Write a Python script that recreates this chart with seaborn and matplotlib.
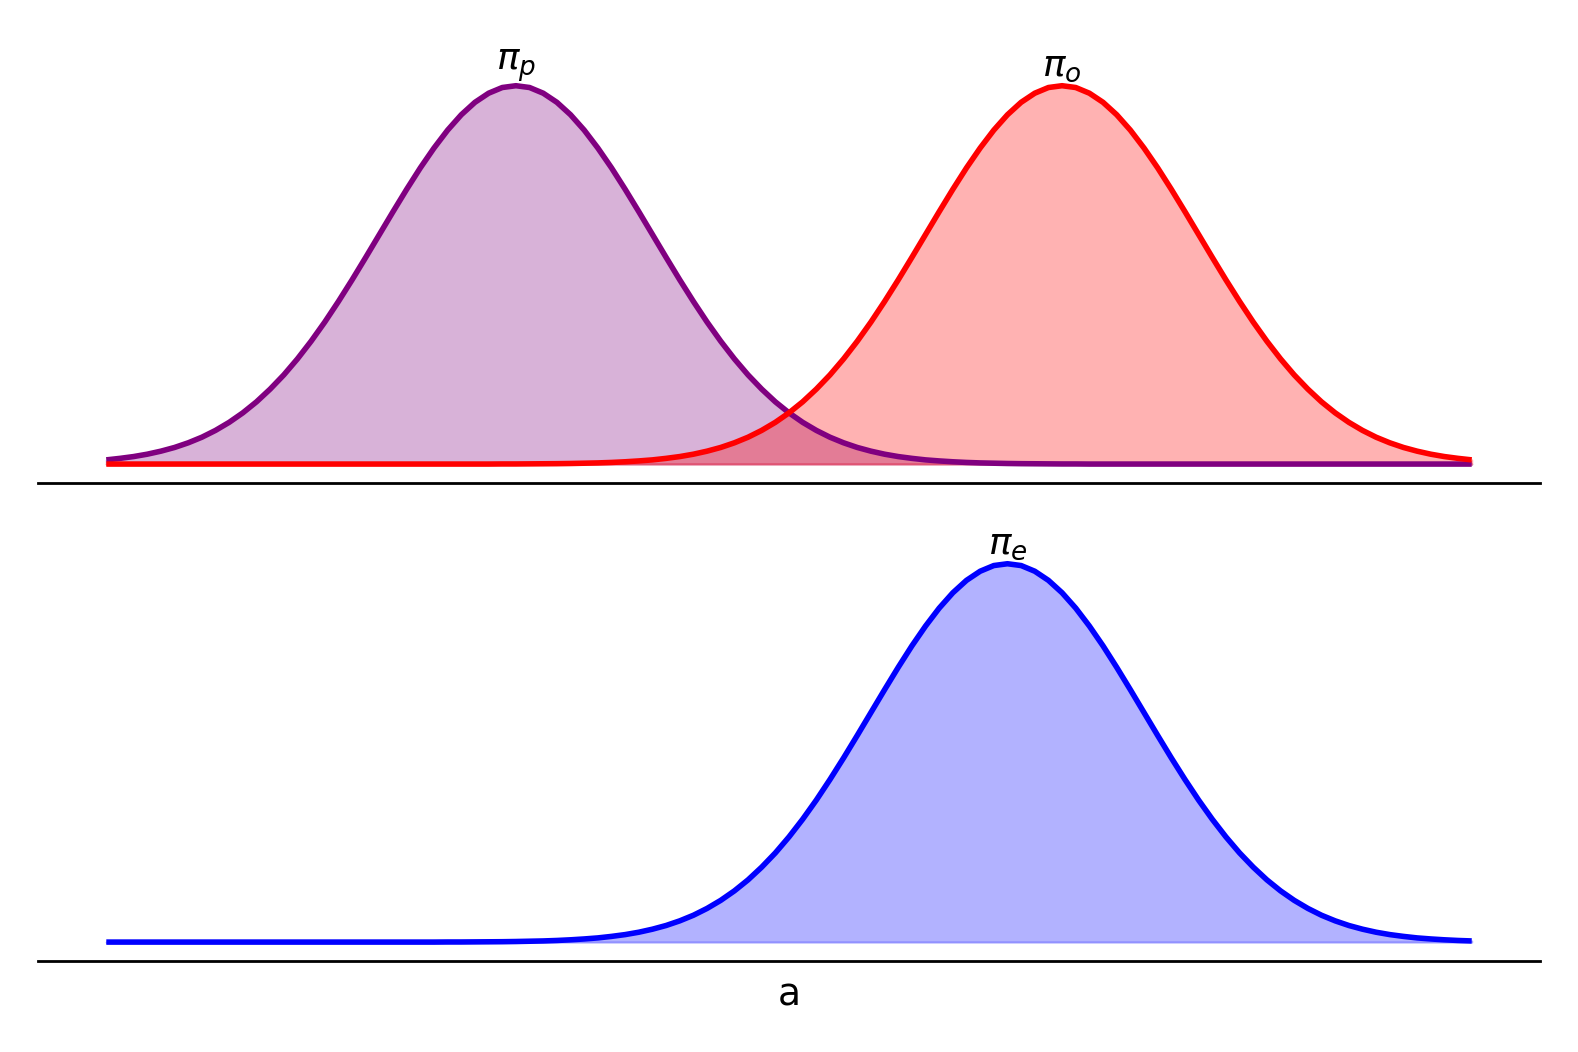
import numpy as np
import pandas as pd

import matplotlib.pyplot as plt
import seaborn as sns

sns.set_style('white')

# shared grid on the a-axis
a_grid = np.round(np.linspace(-5, 5, 101), 2)

# densities (peak ~0.399)
pi_p = [0.0044, 0.0060, 0.0079, 0.0104, 0.0136, 0.0175, 0.0224, 0.0283, 0.0355, 0.0440,
        0.0540, 0.0656, 0.0790, 0.0940, 0.1109, 0.1295, 0.1497, 0.1714, 0.1942, 0.2179,
        0.2420, 0.2661, 0.2897, 0.3123, 0.3332, 0.3521, 0.3683, 0.3814, 0.3910, 0.3970,
        0.3989,
        0.3970, 0.3910, 0.3814, 0.3683, 0.3521, 0.3332, 0.3123, 0.2897, 0.2661, 0.2420,
        0.2179, 0.1942, 0.1714, 0.1497, 0.1295, 0.1109, 0.0940, 0.0790, 0.0656, 0.0540,
        0.0440, 0.0355, 0.0283, 0.0224, 0.0175, 0.0136, 0.0104, 0.0079, 0.0060, 0.0044,
        0.0033, 0.0024, 0.0017, 0.0012, 0.0009, 0.0006, 0.0004, 0.0003, 0.0002, 0.0001,
        0.0001,
        0, 0, 0, 0, 0, 0, 0, 0, 0, 0,
        0, 0, 0, 0, 0, 0, 0, 0, 0, 0,
        0, 0, 0, 0, 0, 0, 0, 0, 0]
pi_o = pi_p[::-1]
pi_e = [0, 0, 0, 0, 0, 0, 0, 0, 0, 0,
        0, 0, 0, 0, 0, 0, 0, 0, 0, 0,
        0, 0, 0, 0, 0,
        0.0001, 0.0001, 0.0002, 0.0003, 0.0004, 0.0006, 0.0009, 0.0012, 0.0017, 0.0024,
        0.0033, 0.0044, 0.0060, 0.0079, 0.0104, 0.0136, 0.0175, 0.0224, 0.0283, 0.0355,
        0.0440, 0.0540, 0.0656, 0.0790, 0.0940, 0.1109, 0.1295, 0.1497, 0.1714, 0.1942,
        0.2179, 0.2420, 0.2661, 0.2897, 0.3123, 0.3332, 0.3521, 0.3683, 0.3814, 0.3910,
        0.3970,
        0.3989,
        0.3970, 0.3910, 0.3814, 0.3683, 0.3521, 0.3332, 0.3123, 0.2897, 0.2661, 0.2420,
        0.2179, 0.1942, 0.1714, 0.1497, 0.1295, 0.1109, 0.0940, 0.0790, 0.0656, 0.0540,
        0.0440, 0.0355, 0.0283, 0.0224, 0.0175, 0.0136, 0.0104, 0.0079, 0.0060, 0.0044,
        0.0033, 0.0024, 0.0017, 0.0012]

df = pd.DataFrame({'a': a_grid, 'pi_p': pi_p, 'pi_o': pi_o, 'pi_e': pi_e})

fig = plt.figure(figsize=(15.78, 10.52), dpi=100)
ax_top = fig.add_axes([0.0241, 0.5409, 0.9518, 0.3956])
ax_bot = fig.add_axes([0.0241, 0.0865, 0.9518, 0.3956])

LW = 4
FS = 27


def draw(ax, col, color, label):
    ax.fill_between(df['a'], df[col], color=color, alpha=0.3, lw=1.5)
    sns.lineplot(data=df, x='a', y=col, color=color, lw=LW, ax=ax,
                 solid_capstyle='butt')
    peak = df[col].max()
    a_peak = df.loc[df[col].idxmax(), 'a']
    ax.text(a_peak, peak * 1.005, label, ha='center', va='bottom',
            fontsize=FS, color='black')


draw(ax_top, 'pi_p', 'purple', r'$\pi_p$')
draw(ax_top, 'pi_o', 'red', r'$\pi_o$')
draw(ax_bot, 'pi_e', 'blue', r'$\pi_e$')

for ax in (ax_top, ax_bot):
    sns.despine(ax=ax, left=True)
    ax.spines['bottom'].set_linewidth(2)
    ax.spines['bottom'].set_color('black')
    ax.set_xticks([])
    ax.set_yticks([])
    ax.set_ylabel('')
    ax.set_xlabel('')

ax_bot.set_xlabel('a', fontsize=FS, labelpad=12, color='black')

fig.savefig('out.png', dpi=100)
